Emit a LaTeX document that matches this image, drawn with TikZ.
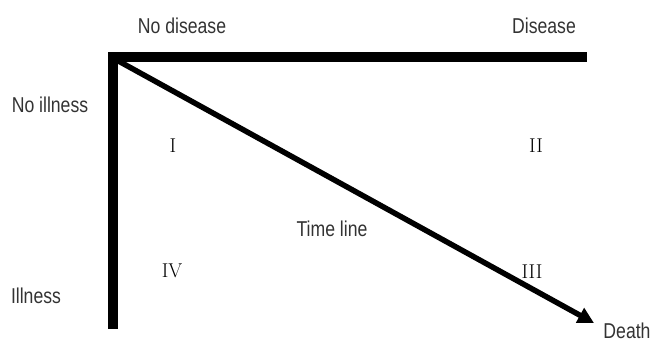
\documentclass[tikz,border=0pt]{standalone}
\usepackage{fontspec}
\usetikzlibrary{arrows.meta}
\newfontfamily\labfont[FakeStretch=0.82]{Liberation Sans}
\tikzset{
  lab/.style={font=\labfont\fontsize{21.5}{24}\selectfont, text=black!80, inner sep=0pt},
  roman/.style={font=\fontsize{20}{22}\selectfont, inner sep=0pt},
  axis/.style={line width=9.5pt},
  tline/.style={line width=5.5pt, -{Triangle[length=16pt,width=16pt]}}
}
\begin{document}
\begin{tikzpicture}[x=1pt,y=-1pt]
\useasboundingbox (0,0) rectangle (654,343);
\coordinate (corner) at (108,57);
\coordinate (top) at (113,52);
\coordinate (bottom) at (113,329);
\coordinate (right) at (587,57);
\coordinate (origin) at (113,58);
\coordinate (death) at (594,323);
\draw[axis] (top) -- (bottom);
\draw[axis] (corner) -- (right);
\draw[tline] (origin) -- (death);
\node[lab] (nodis) at (182,26) {No disease};
\node[lab] (dis) at (544,26) {Disease};
\node[lab] (noill) at (50,105) {No illness};
\node[lab] (ill) at (36,296) {Illness};
\node[lab] (tl) at (332,229) {Time line};
\node[lab] (dth) at (627,331) {Death};
\node[roman] (r1) at (173,146) {I};
\node[roman] (r2) at (536,146) {II};
\node[roman] (r3) at (532,272) {III};
\node[roman] (r4) at (172,271) {IV};
\end{tikzpicture}
\end{document}
